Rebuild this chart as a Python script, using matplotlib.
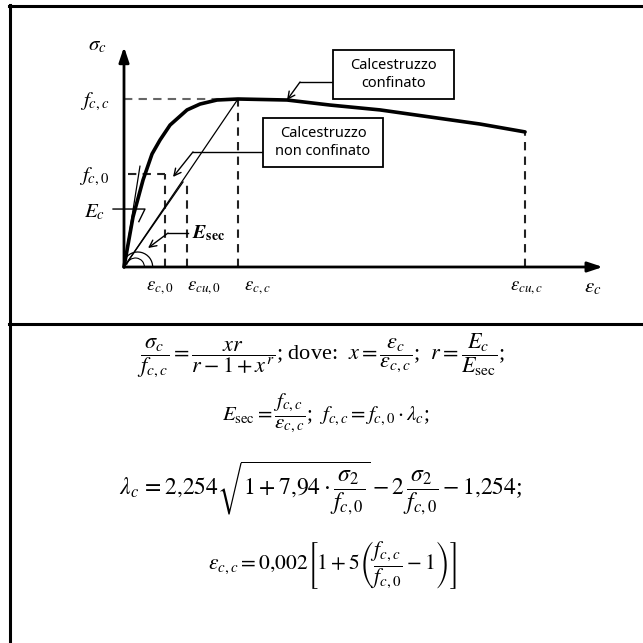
import matplotlib
matplotlib.use("Agg")
import matplotlib.pyplot as plt
from matplotlib.patches import Rectangle, Arc
from matplotlib.lines import Line2D

plt.rcParams['mathtext.fontset'] = 'stix'

# ---------------- data (normalised: strain / eps_cc, stress / f_cc) ----------------
curve_strain = [0.0, 0.079, 0.167, 0.246, 0.316, 0.404, 0.553, 0.667, 0.816, 1.0,
                1.43, 1.807, 2.246, 2.684, 3.123, 3.518]
curve_stress = [0.0, 0.298, 0.518, 0.673, 0.756, 0.845, 0.935, 0.970, 0.994, 1.0,
                0.994, 0.964, 0.935, 0.893, 0.851, 0.804]

eps_c0 = 0.36
eps_cu0 = 0.553
eps_cc = 1.0
eps_cuc = 3.518
f_c0 = 0.554
f_cc = 1.0
stress_cu0 = 0.50
stress_cuc = 0.804
tangent_pt = (0.14, 0.60)
secant0_pt = (0.518, 0.506)

x_label_pos = [0.316, 0.70, 1.167, 3.53]
x_tick_labels = [r'$\varepsilon_{c,0}$', r'$\varepsilon_{cu,0}$', r'$\varepsilon_{c,c}$', r'$\varepsilon_{cu,c}$']
y_tick_vals = [f_cc, f_c0]
y_tick_labels = [r'$f_{c,c}$', r'$f_{c,0}$']

box_labels = ['Calcestruzzo\nconfinato', 'Calcestruzzo\nnon confinato']

formulas = [
    r'$\dfrac{\sigma_c}{f_{c,c}}=\dfrac{xr}{r-1+x^r}$; dove:  $x=\dfrac{\varepsilon_c}{\varepsilon_{c,c}}$;  $r=\dfrac{E_c}{E_{\rm sec}}$;',
    r'$E_{\rm sec}=\dfrac{f_{c,c}}{\varepsilon_{c,c}}$;  $f_{c,c}=f_{c,0}\cdot\lambda_c$;',
    r'$\lambda_c\,=2{,}254\sqrt{1+7{,}94\cdot\dfrac{\sigma_2}{f_{c,0}}}-2\,\dfrac{\sigma_2}{f_{c,0}}-1{,}254$;',
    r'$\varepsilon_{c,c}=0{,}002\left[1+5\left(\dfrac{f_{c,c}}{f_{c,0}}-1\right)\right]$',
]

# ---------------- figure ----------------
W = H = 643
fig = plt.figure(figsize=(6.43, 6.43), dpi=100)

# chart axes: origin at pixel (124,267); 114 px per x-unit, 168 px per y-unit
x0p, y0p, sx, sy = 124, 267, 114, 168
left_px, right_px, top_px, bot_px = 10, 643, 6, 324
ax = fig.add_axes([left_px / W, 1 - bot_px / H, (right_px - left_px) / W, (bot_px - top_px) / H])
ax.set_xlim((left_px - x0p) / sx, (right_px - x0p) / sx)
ax.set_ylim((y0p - bot_px) / sy, (y0p - top_px) / sy)
ax.axis('off')

# axes arrows
x_end = 4.2
y_end = 1.31
ax.annotate('', xy=(x_end, 0), xytext=(0, 0),
            arrowprops=dict(arrowstyle='-|>,head_length=0.9,head_width=0.3', lw=2, color='black', shrinkA=0, shrinkB=0))
ax.annotate('', xy=(0, y_end), xytext=(0, 0),
            arrowprops=dict(arrowstyle='-|>,head_length=0.9,head_width=0.3', lw=2, color='black', shrinkA=0, shrinkB=0))

# dashed guide lines
dash = dict(color='#222222', lw=1.5, ls=(0, (4, 3)))
ax.plot([0, eps_cc], [f_cc, f_cc], color='#666666', lw=1.5, ls=(0, (4, 3)))
ax.plot([eps_cc, eps_cc], [0, f_cc], **dash)
ax.plot([0.035, eps_c0], [f_c0, f_c0], **dash)
ax.plot([eps_c0, eps_c0], [0, f_c0], **dash)
ax.plot([eps_cu0, eps_cu0], [0, stress_cu0], **dash)
ax.plot([eps_cuc, eps_cuc], [0, stress_cuc], **dash)

# thin lines: tangent, secants
thin = dict(color='black', lw=0.9)
ax.plot([0, tangent_pt[0]], [0, tangent_pt[1]], **thin)
ax.plot([0, secant0_pt[0]], [0, secant0_pt[1]], **thin)
ax.plot([0, eps_cc], [0, f_cc], **thin)

# main curve
ax.plot(curve_strain, curve_stress, color='black', lw=2.6, solid_capstyle='round')

# angle arcs near origin
ax.add_patch(Arc((0.12, 0), 2 * 15 / sx, 2 * 15 / sy, theta1=0, theta2=160, lw=0.9, color='black'))
ax.add_patch(Arc((0.10, 0), 2 * 9 / sx, 2 * 9 / sy, theta1=0, theta2=170, lw=0.8, color='black'))

# axis labels
lab = dict(fontsize=15, color='black')
ax.text(-0.237, 1.32, r'$\sigma_c$', ha='center', va='center', **lab)
for v, t in zip(y_tick_vals, y_tick_labels):
    ax.text(-0.13, v - 0.015, t, ha='right', va='center', **lab)
ax.text(-0.17, 0.325, r'$E_c$', ha='right', va='center', **lab)
for v, t in zip(x_label_pos, x_tick_labels):
    ax.text(v, -0.12, t, ha='center', va='center', fontsize=13.5)
ax.text(4.11, -0.12, r'$\varepsilon_c$', ha='center', va='center', **lab)
ax.text(0.60, 0.20, r'$\mathbfit{E}_{\mathbf{sec}}$', ha='left', va='center', fontsize=14)

# E_c pointer
ax.plot([-0.096, 0.184, 0.13], [0.345, 0.345, 0.27], color='black', lw=1.0)

# label boxes
boxes = [((1.833, 1.0), 1.062, 0.292, 0), ((1.219, 0.595), 1.053, 0.292, 1)]
for (bx, by), bw, bh, i in boxes:
    ax.add_patch(Rectangle((bx, by), bw, bh, fill=True, facecolor='white', edgecolor='black', lw=1.3, zorder=4))
    ax.text(bx + bw / 2, by + bh / 2, box_labels[i], ha='center', va='center', fontsize=10.5,
            family='Noto Sans', linespacing=1.25, zorder=5)

# leaders with arrows
def leader(pts):
    xs, ys = zip(*pts[:-1])
    ax.plot(xs, ys, color='black', lw=1.0)
    ax.annotate('', xy=pts[-1], xytext=pts[-2],
                arrowprops=dict(arrowstyle='->,head_length=0.5,head_width=0.25', lw=1.0, color='black',
                                shrinkA=0, shrinkB=0))

leader([(1.833, 1.101), (1.544, 1.101), (1.43, 0.994)])
leader([(1.219, 0.685), (0.605, 0.685), (0.43, 0.536)])
leader([(0.561, 0.202), (0.386, 0.202), (0.211, 0.113)])

# ---------------- frame ----------------
def hline(y, x1, x2):
    fig.add_artist(Line2D([x1 / W, x2 / W], [1 - y / H, 1 - y / H], color='black', lw=2.2))

def vline(x, y1, y2):
    fig.add_artist(Line2D([x / W, x / W], [1 - y1 / H, 1 - y2 / H], color='black', lw=2.2))

hline(6, 9, 643)
hline(324, 9, 643)
vline(10, 5, 643)

# ---------------- formulas ----------------
fpos = [(321, 356, 16), (326, 413, 15), (321, 488, 17), (332, 566, 15.5)]
for txt, (px, py, fs) in zip(formulas, fpos):
    fig.text(px / W, 1 - py / H, txt, ha='center', va='center', fontsize=fs, family='Liberation Serif')

fig.savefig('out.png', dpi=100)
